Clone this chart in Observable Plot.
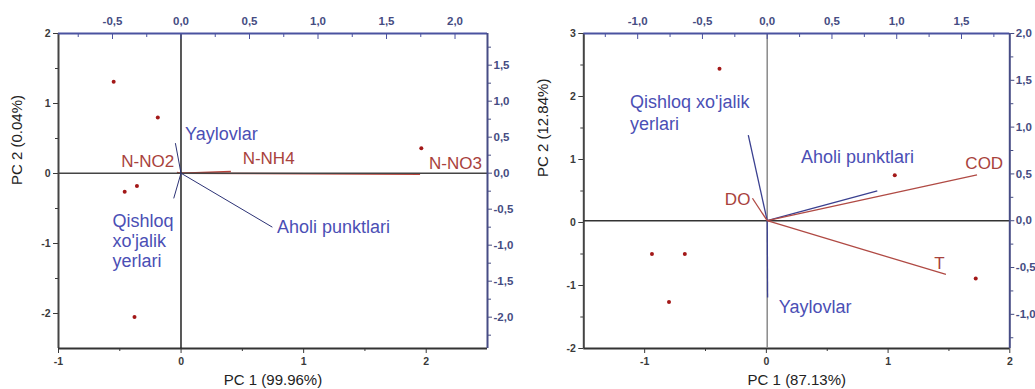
<!DOCTYPE html>
<html><head><meta charset="utf-8">
<script src="https://cdn.jsdelivr.net/npm/d3@7"></script>
<script src="https://cdn.jsdelivr.net/npm/@observablehq/plot@0.6"></script>
<style>
body{margin:0;background:#fff;font-family:"Liberation Sans",Arial,sans-serif}
#wrap{position:relative;width:1035px;height:389px;overflow:hidden}
.panel{position:absolute;top:0;height:389px}
.panel svg{position:absolute;left:0;top:0}
</style></head><body><div id="wrap"></div>
<script>
// ---------- Left biplot (PC1 99.96%, PC2 0.04%) ----------
const scoresLx = [-0.55, -0.19, 1.96, -0.46, -0.36, -0.38];
const scoresLy = [1.31, 0.80, 0.36, -0.26, -0.18, -2.05];
const loadLnames = ["N-NO3", "N-NH4", "N-NO2", "Yaylovlar", "Qishloq xo'jalik yerlari", "Aholi punktlari"];
const loadLx = [1.745, 0.364, -0.03, -0.041, -0.053, 0.667];
const loadLy = [-0.016, 0.025, 0.01, 0.417, -0.35, -0.75];
const loadLtype = ["chem", "chem", "chem", "land", "land", "land"];
const labLtext = ["N-NO3", "N-NH4", "N-NO2", "Yaylovlar", "Qishloq\nxo'jalik\nyerlari", "Aholi punktlari"];
const labLx = [1.81, 0.45, -0.05, 0.03, -0.50, 0.70];
const labLy = [0.14, 0.21, 0.176, 0.55, -0.935, -0.74];
const labLanchor = ["start", "start", "end", "start", "start", "start"];

// ---------- Right biplot (PC1 87.13%, PC2 12.84%) ----------
const scoresRx = [-0.385, 1.055, -0.94, -0.67, -0.80, 1.72];
const scoresRy = [2.44, 0.75, -0.50, -0.50, -1.26, -0.89];
const loadRnames = ["Qishloq xo'jalik yerlari", "Aholi punktlari", "Yaylovlar", "COD", "T", "DO"];
const loadRx = [-0.146, 0.85, 0.003, 1.62, 1.38, -0.114];
const loadRy = [0.915, 0.32, -0.82, 0.49, -0.574, 0.24];
const loadRtype = ["land", "land", "land", "chem", "chem", "chem"];
const labRtext = ["Qishloq xo'jalik\nyerlari", "Aholi punktlari", "Yaylovlar", "COD", "T", "DO"];
const labRx = [-1.06, 0.26, 0.09, 1.53, 1.33, -0.13];
const labRy = [1.16, 0.69, -0.915, 0.62, -0.44, 0.234];
const labRanchor = ["start", "start", "start", "start", "middle", "end"];

// tick definitions
const ticksL_x = [-1, 0, 1, 2], minorL_x = [-0.5, 0.5, 1.5];
const ticksL_y = [-2, -1, 0, 1, 2], minorL_y = [-1.5, -0.5, 0.5, 1.5];
const ticksL_top = [-0.5, 0, 0.5, 1, 1.5, 2], minorL_top = [-0.75, -0.25, 0.25, 0.75, 1.25, 1.75];
const ticksL_right = [-2, -1.5, -1, -0.5, 0, 0.5, 1, 1.5], minorL_right = [-2.25, -1.75, -1.25, -0.75, -0.25, 0.25, 0.75, 1.25, 1.75];
const ticksR_x = [-1, 0, 1, 2], minorR_x = [-0.5, 0.5, 1.5];
const ticksR_y = [-2, -1, 0, 1, 2, 3], minorR_y = [-1.5, -0.5, 0.5, 1.5, 2.5];
const ticksR_top = [-1, -0.5, 0, 0.5, 1, 1.5], minorR_top = [-1.25, -0.75, -0.25, 0.25, 0.75, 1.25, 1.75];
const ticksR_right = [-1, -0.5, 0, 0.5, 1, 1.5, 2], minorR_right = [-1.25, -0.75, -0.25, 0.25, 0.75, 1.25, 1.75];

const FONT = "Liberation Sans, Arial, Helvetica, sans-serif";
const RED_T = "#a8423c", BLUE_T = "#4b4fb5", PT = "#a31818";
const AX_DARK = "#3a3a3a", AX_BLUE = "#4a52a0", TXT_BLUE = "#454c82";
const comma = d => d.toFixed(1).replace(".", ",");

function makePanel(cfg) {
  const div = document.createElement("div");
  div.className = "panel";
  div.style.left = cfg.left + "px";
  div.style.width = cfg.width + "px";
  const common = {
    width: cfg.width, height: 389,
    marginLeft: cfg.mL, marginRight: cfg.mR, marginTop: 33, marginBottom: 41,
    style: {fontFamily: FONT, background: "transparent", overflow: "visible"}
  };
  const scores = cfg.sx.map((x, i) => ({x, y: cfg.sy[i]}));
  // primary (scores) plot: bottom + left axes
  const A = Plot.plot({
    ...common,
    x: {domain: cfg.xDom}, y: {domain: cfg.yDom},
    marks: [
      Plot.axisY(cfg.ty, {anchor: "left", tickSize: 5, tickPadding: 3, fontSize: 10.5, fontWeight: "bold", color: AX_DARK, tickFormat: d => String(d), label: null}),
      Plot.axisY(cfg.my, {anchor: "left", tickSize: 3, tickFormat: () => "", color: AX_DARK, label: null}),
      Plot.axisX(cfg.tx, {anchor: "bottom", tickSize: 5, tickPadding: 4, fontSize: 10.5, fontWeight: "bold", color: AX_DARK, tickFormat: d => String(d), label: null}),
      Plot.axisX(cfg.mx, {anchor: "bottom", tickSize: 3, tickFormat: () => "", color: AX_DARK, label: null}),
      Plot.ruleX([cfg.xDom[0]], {stroke: "#444", strokeWidth: 2}),
      Plot.ruleY([cfg.yDom[0]], {stroke: "#333", strokeWidth: 2}),
      Plot.text([cfg.xTitle], {frameAnchor: "bottom", dy: 36, fontSize: 15, fill: "#222"}),
      Plot.text([cfg.yTitle], {frameAnchor: "left", dx: cfg.yTdx, dy: cfg.yTdy, rotate: -90, fontSize: 15, fill: "#222"}),
      Plot.dot(scores, {x: "x", y: "y", r: 2, fill: PT, stroke: null})
    ]
  });
  const loads = cfg.lx.map((x, i) => ({name: cfg.ln[i], x, y: cfg.ly[i], type: cfg.lt[i]}));
  const labs = cfg.labT.map((t, i) => ({t, x: cfg.labX[i], y: cfg.labY[i], a: cfg.labA[i], type: cfg.lt[i]}));
  const vec = (data, color, w) => Plot.link(data, {x1: d => 0, y1: d => 0, x2: "x", y2: "y", stroke: color, strokeWidth: w});
  const zero = [
    Plot.ruleX([0], {stroke: cfg.zv, strokeWidth: 1.5}),
    Plot.ruleY([0], {stroke: cfg.zh, strokeWidth: 1.5})
  ];
  const chem = loads.filter(d => d.type === "chem"), land = loads.filter(d => d.type === "land");
  const vecMarks = cfg.under
    ? [vec(chem, "#b8423a", 1.5), ...zero, vec(land, cfg.landColor, 1)]
    : [...zero, vec(land, cfg.landColor, 1.3), vec(chem, "#b04a44", 1.3)];
  const textMarks = ["start", "middle", "end"].map(a =>
    Plot.text(labs.filter(d => d.a === a), {x: "x", y: "y", text: "t", textAnchor: a, lineHeight: cfg.lh,
      fontSize: d => d.type === "chem" ? 17 : 18, fill: d => d.type === "chem" ? RED_T : BLUE_T}));
  // secondary (loadings) plot: top + right axes
  const B = Plot.plot({
    ...common,
    x: {domain: cfg.x2Dom}, y: {domain: cfg.y2Dom},
    marks: [
      ...vecMarks,
      Plot.axisX(cfg.tt, {anchor: "top", tickSize: 0, tickPadding: 9, fontSize: 11.5, fontWeight: "bold", color: TXT_BLUE, tickFormat: comma, label: null}),
      Plot.axisX(cfg.tt, {anchor: "top", tickSize: -5, tickFormat: () => "", color: AX_BLUE, label: null}),
      Plot.axisX(cfg.mt, {anchor: "top", tickSize: -3, tickFormat: () => "", color: AX_BLUE, label: null}),
      Plot.axisY(cfg.tr, {anchor: "right", tickSize: 4, tickPadding: 2, fontSize: 11.5, fontWeight: "bold", color: TXT_BLUE, tickFormat: comma, label: null}),
      Plot.axisY(cfg.mr, {anchor: "right", tickSize: 3, tickFormat: () => "", color: TXT_BLUE, label: null}),
      Plot.ruleY([cfg.y2Dom[1]], {stroke: AX_BLUE, strokeWidth: 2}),
      Plot.ruleX([cfg.x2Dom[1]], {stroke: "#474c85", strokeWidth: 2}),
      ...textMarks
    ]
  });
  div.appendChild(A);
  div.appendChild(B);
  document.getElementById("wrap").appendChild(div);
}

makePanel({
  left: 0, width: 517, mL: 58, mR: 30,
  xDom: [-1, 2.5], yDom: [-2.5, 2], x2Dom: [-0.894, 2.237], y2Dom: [-2.435, 1.94],
  sx: scoresLx, sy: scoresLy, ln: loadLnames, lx: loadLx, ly: loadLy, lt: loadLtype,
  labT: labLtext, labX: labLx, labY: labLy, labA: labLanchor, lh: 1.11,
  tx: ticksL_x, mx: minorL_x, ty: ticksL_y, my: minorL_y, tt: ticksL_top, mt: minorL_top, tr: ticksL_right, mr: minorL_right,
  xTitle: "PC 1 (99.96%)", yTitle: "PC 2 (0.04%)", yTdx: -41, yTdy: -6,
  zv: "#222", zh: "#444", under: true, landColor: "#2c3275"
});
makePanel({
  left: 517, width: 518, mL: 66.3, mR: 25.7,
  xDom: [-1.5, 2], yDom: [-2, 3], x2Dom: [-1.416, 1.873], y2Dom: [-1.365, 2.0],
  sx: scoresRx, sy: scoresRy, ln: loadRnames, lx: loadRx, ly: loadRy, lt: loadRtype,
  labT: labRtext, labX: labRx, labY: labRy, labA: labRanchor, lh: 1.22,
  tx: ticksR_x, mx: minorR_x, ty: ticksR_y, my: minorR_y, tt: ticksR_top, mt: minorR_top, tr: ticksR_right, mr: minorR_right,
  xTitle: "PC 1 (87.13%)", yTitle: "PC 2 (12.84%)", yTdx: -41, yTdy: -14,
  zv: "#8a8a8a", zh: "#333", under: false, landColor: "#3a4090"
});
</script>
</body></html>
